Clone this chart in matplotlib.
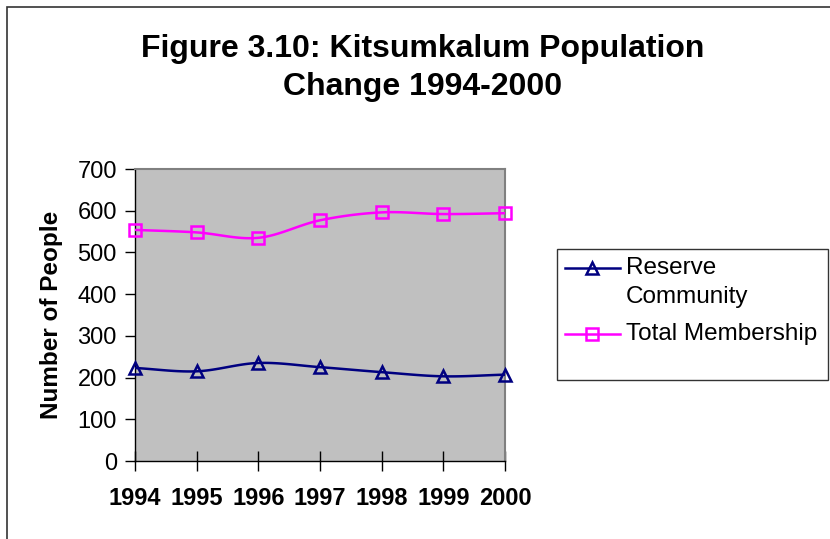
import numpy as np
import matplotlib.pyplot as plt
from matplotlib.patches import Rectangle
from matplotlib.lines import Line2D

plt.rcParams['font.family'] = ['Liberation Sans', 'DejaVu Sans']

years = [1994, 1995, 1996, 1997, 1998, 1999, 2000]
reserve = [223, 215, 235, 225, 213, 203, 207]
membership = [554, 548, 535, 577, 596, 592, 594]
yticks = [0, 100, 200, 300, 400, 500, 600, 700]


def smooth(x, y, n=20):
    # Catmull-Rom style curve through the points, like Excel's smoothed line
    x = np.asarray(x, float)
    y = np.asarray(y, float)
    px = np.concatenate([[2 * x[0] - x[1]], x, [2 * x[-1] - x[-2]]])
    py = np.concatenate([[2 * y[0] - y[1]], y, [2 * y[-1] - y[-2]]])
    xs, ys = [], []
    t = np.linspace(0, 1, n)
    for i in range(1, len(px) - 2):
        for p, out in ((px, xs), (py, ys)):
            p0, p1, p2, p3 = p[i - 1], p[i], p[i + 1], p[i + 2]
            out.extend(0.5 * ((2 * p1) + (-p0 + p2) * t
                              + (2 * p0 - 5 * p1 + 4 * p2 - p3) * t ** 2
                              + (-p0 + 3 * p1 - 3 * p2 + p3) * t ** 3))
    return np.array(xs), np.array(ys)


fig = plt.figure(figsize=(8.3, 5.39), dpi=100)
W, H = 830, 539
ax = fig.add_axes([135 / W, 1 - 461 / H, (505 - 135) / W, (461 - 169) / H])
ax.set_facecolor('#C0C0C0')

navy = '#000080'
magenta = '#FF00FF'
series = [(reserve, navy, '^'), (membership, magenta, 's')]

for vals, color, marker in series:
    sx, sy = smooth(years, vals)
    ax.plot(sx, sy, color=color, linewidth=1.8, zorder=3)
    ax.plot(years, vals, linestyle='none', marker=marker, markersize=9,
            markerfacecolor='none', markeredgecolor=color, markeredgewidth=1.8,
            zorder=4, clip_on=False)

ax.set_xlim(years[0], years[-1])
ax.set_ylim(0, 700)
ax.set_xticks(years)
ax.set_xticklabels([str(y) for y in years], fontsize=17, fontweight='bold')
ax.set_yticks(yticks)
ax.set_yticklabels([str(v) for v in yticks], fontsize=17)
ax.tick_params(axis='y', direction='out', length=7, width=1, pad=6)
ax.tick_params(axis='x', direction='inout', length=14, width=1, pad=12)

for side in ('top', 'right'):
    ax.spines[side].set_color('#808080')
    ax.spines[side].set_linewidth(1.5)
for side in ('left', 'bottom'):
    ax.spines[side].set_color('black')
    ax.spines[side].set_linewidth(1)

ax.set_ylabel('Number of People', fontsize=17.5, fontweight='bold')
ax.yaxis.set_label_coords(-72 / 370, 0.5)

fig.text(423 / W, 1 - 68 / H, 'Figure 3.10: Kitsumkalum Population\nChange 1994-2000',
         ha='center', va='center', fontsize=23, fontweight='bold', linespacing=1.38)

# outer chart border (only top and left edges fall inside the image)
fig.patches.append(Rectangle((7 / W, -0.2), 1.2, 1 - 7 / H + 0.2,
                             transform=fig.transFigure, fill=False,
                             edgecolor='#333333', linewidth=1.2))

# legend box, drawn by hand so the handle sits on the first label line
fig.patches.append(Rectangle((557 / W, 1 - 380 / H), (828 - 557) / W, (380 - 249) / H,
                             transform=fig.transFigure, fill=False,
                             edgecolor='#333333', linewidth=1))
legend_labels = [['Reserve', 'Community'], ['Total Membership']]
legend_rows = [[268, 297], [334]]
for (vals, color, marker), lines, rows in zip(series, legend_labels, legend_rows):
    yf = 1 - rows[0] / H
    fig.add_artist(Line2D([565 / W, 620 / W], [yf, yf], transform=fig.transFigure,
                          color=color, linewidth=1.8))
    fig.add_artist(Line2D([592 / W], [yf], transform=fig.transFigure,
                          marker=marker, markersize=9, markerfacecolor='none',
                          markeredgecolor=color, markeredgewidth=1.8))
    for text, ypx in zip(lines, rows):
        fig.text(626 / W, 1 - ypx / H, text, ha='left', va='center', fontsize=17.5)

fig.savefig('out.png', dpi=100)
